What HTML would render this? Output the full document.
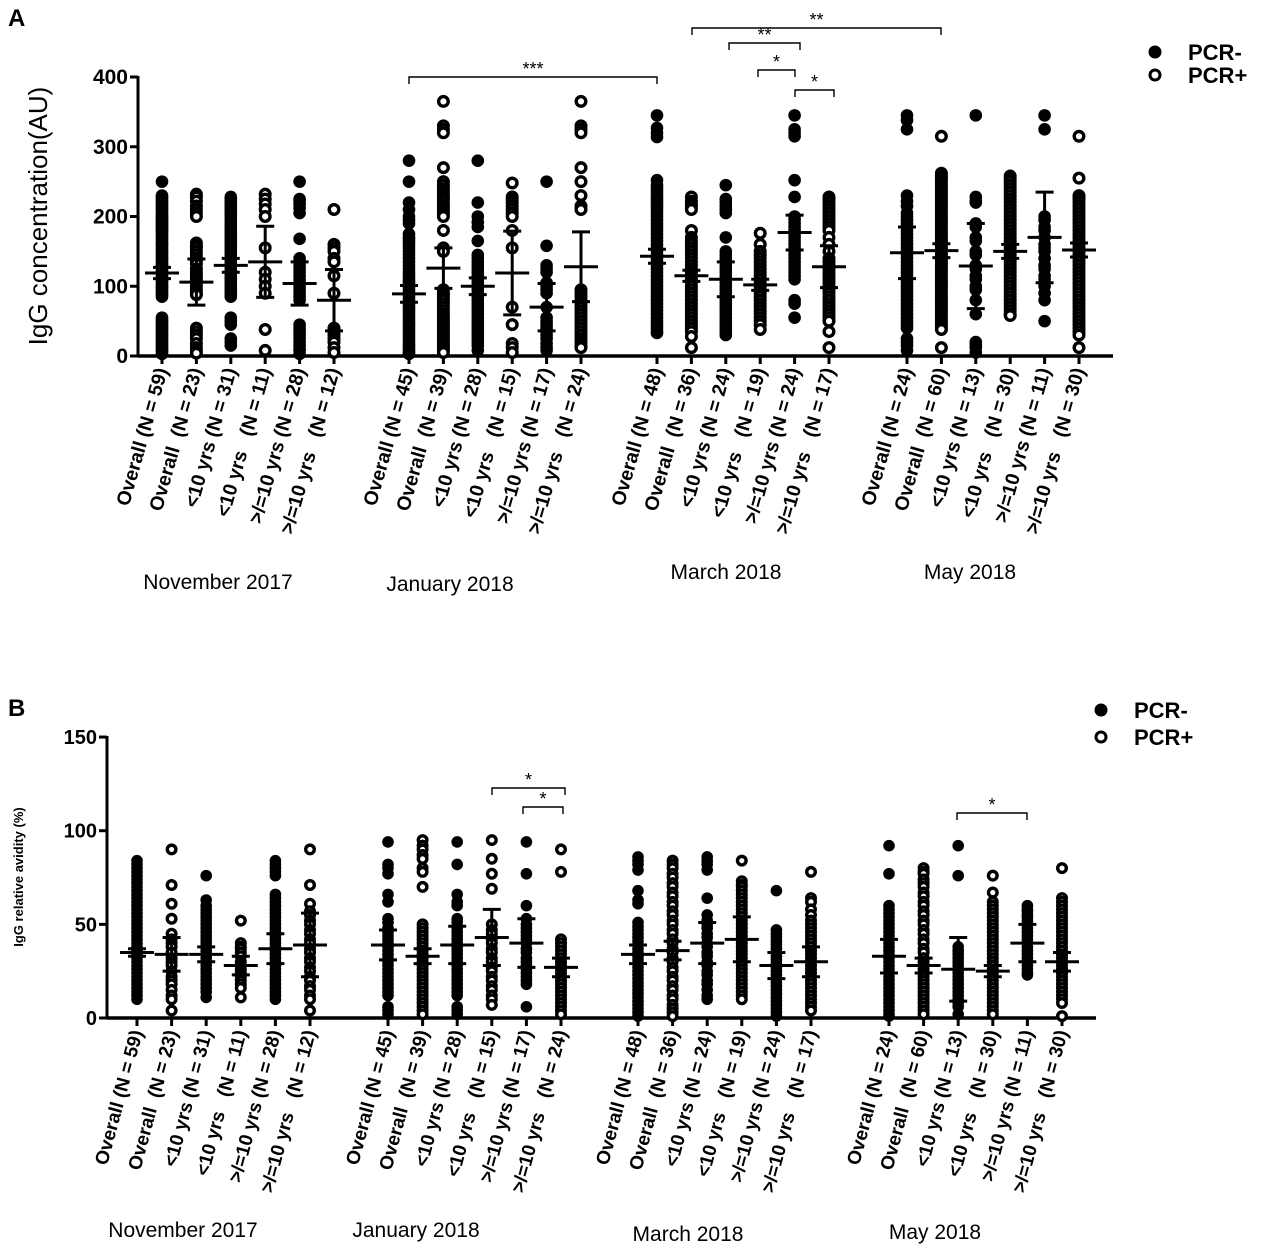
<!DOCTYPE html>
<html><head><meta charset="utf-8"><style>
html,body{margin:0;padding:0;background:#fff;}
svg{display:block;font-family:"Liberation Sans",Arial,sans-serif;}
</style></head><body>
<svg id="chart" width="1261" height="1251" viewBox="0 0 1261 1251" xmlns="http://www.w3.org/2000/svg">
<text x="8" y="26" font-size="24" font-weight="bold">A</text>
<text x="8" y="716" font-size="24" font-weight="bold">B</text>
<g id="pa"></g>
<g id="pb"></g>
</svg>
<script>
// ---------- shared categories ----------
const months = ["November 2017","January 2018","March 2018","May 2018"];
const colKinds = ["Overall","Overall ","<10 yrs","<10 yrs  ",">/=10 yrs",">/=10 yrs  "];
const colFilled = [true,false,true,false,true,false];
const groupN = [[59,23,31,11,28,12],[45,39,28,15,17,24],[48,36,24,19,24,17],[24,60,13,30,11,30]];

// ---------- Panel A data (IgG AU) ----------
const aValues = [
 [250,230,228,225,222,220,218,215,212,210,208,205,202,200,198,196,194,192,190,188,186,184,182,180,178,175,172,170,168,165,162,160,158,155,152,150,148,145,142,140,138,135,132,130,128,125,122,120,118,115,112,110,108,105,102,100,98,95,92,90,88,85,55,52,50,48,45,42,40,38,35,32,30,28,25,22,20,18,15,12,10,8,6,3],
 [232,228,222,215,210,205,200,162,158,155,150,145,140,136,132,125,120,116,112,108,105,100,95,90,88,40,35,30,25,18,12,8,4],
 [228,225,222,218,215,212,208,205,202,198,195,190,186,182,178,175,172,168,164,160,156,152,148,145,141,138,134,130,126,122,118,115,111,108,104,100,96,92,88,85,55,50,45,25,20,15],
 [232,225,218,210,200,155,120,110,100,90,38,8],
 [250,225,222,218,212,205,168,140,135,130,125,120,115,110,105,100,95,90,85,80,45,40,35,30,25,20,15,10,8,3],
 [210,160,155,150,140,135,115,90,40,35,30,25,20,12,5],
 [280,250,220,210,200,195,190,175,170,168,164,160,155,150,145,140,135,130,125,120,116,112,108,105,101,98,94,90,86,82,78,75,71,68,64,60,56,52,48,45,41,38,34,30,26,22,18,15,11,8,5,3],
 [365,330,325,320,270,250,245,240,236,232,228,225,220,215,212,208,204,200,180,155,150,95,90,88,84,80,75,70,65,60,56,52,48,45,41,38,34,30,26,22,18,15,11,8,5],
 [280,220,200,192,185,165,145,140,135,130,125,120,115,110,105,100,95,90,85,80,75,70,65,60,55,50,45,40,35,30,25,20,15,8],
 [248,228,224,220,215,210,205,200,180,155,70,45,18,12,5],
 [250,158,130,125,120,105,100,95,90,70,55,50,45,40,35,30,25,18,12,8],
 [365,330,325,320,270,250,230,215,210,95,90,85,80,75,70,65,60,55,50,45,40,35,30,25,20,15,12],
 [345,327,320,314,252,245,240,236,232,228,225,221,218,214,210,205,200,195,190,185,180,175,170,165,160,155,150,145,140,135,130,125,120,115,110,105,100,95,90,85,80,75,70,65,60,55,50,45,40,35,33],
 [228,222,218,215,210,180,170,165,160,155,150,145,140,135,130,125,120,115,110,105,100,95,90,85,80,75,70,65,60,55,50,45,40,35,28,12],
 [245,225,220,215,210,205,170,150,145,140,135,130,125,120,115,110,105,100,95,90,85,80,75,70,65,60,55,50,45,40,35,30],
 [176,160,150,145,140,135,130,125,120,115,110,105,100,95,90,85,80,75,70,65,60,55,50,45,38],
 [345,325,320,315,252,228,200,195,190,185,180,175,170,165,160,155,150,145,140,135,130,125,120,115,110,80,75,55],
 [228,224,220,215,210,205,200,195,190,185,180,170,160,150,140,135,130,125,120,115,110,105,100,95,90,85,80,75,70,65,60,55,50,35,12],
 [345,338,325,230,222,215,205,200,195,190,185,180,175,170,165,160,155,150,145,140,135,130,125,120,115,110,105,100,95,90,85,80,75,70,65,60,55,50,45,40,25,20,15,8],
 [315,262,258,255,252,248,244,240,236,232,228,225,221,218,214,210,206,202,198,195,191,188,184,180,176,172,168,165,161,158,154,150,146,142,138,135,131,128,124,120,116,112,108,105,101,98,94,90,86,82,78,75,71,68,64,60,56,52,48,45,41,38,12],
 [345,228,222,220,190,185,170,165,150,145,130,125,115,110,100,95,80,60,20,15,12,5],
 [258,254,250,245,240,235,230,225,220,215,210,205,200,195,190,185,180,175,170,165,160,155,150,145,140,135,130,125,120,115,110,105,100,95,90,85,80,75,70,65,60,58],
 [345,325,200,195,185,180,170,160,155,150,140,130,125,115,110,100,90,80,50],
 [315,255,230,228,225,220,215,210,205,200,195,190,185,180,175,170,165,160,155,150,145,140,135,130,125,120,115,110,105,100,95,90,85,80,75,70,65,60,55,50,45,40,35,30,12]
];
const aMeans = [119,106,130,135,104,80, 89,126,100,119,70,128, 143,115,110,102,177,128, 148,151,129,150,170,152];
const aSems  = [8,33,10,51,31,44, 12,29,12,60,34,50, 10,8,25,8,25,30, 37,10,61,10,65,10];
const aTicks = [0,100,200,300,400];

// ---------- Panel B data (avidity %) ----------
const bValues = [
 [84,82,80,78,76,74,72,70,68,66,64,62,60,58,56,54,52,50,48,46,44,42,40,38,36,34,32,30,28,26,24,22,20,18,16,14,12,10],
 [90,71,61,53,45,42,40,38,35,32,30,28,25,22,20,18,15,12,10,4],
 [76,63,60,58,56,54,52,50,48,46,44,42,40,38,36,34,32,30,28,26,24,22,20,18,16,14,11],
 [52,40,38,37,35,33,30,28,26,24,22,20,18,16,11],
 [84,82,80,78,76,66,64,62,60,58,56,54,52,50,48,46,44,42,40,38,36,34,32,30,28,26,24,22,20,18,16,14,12,10],
 [90,71,61,57,55,52,50,47,45,42,40,37,35,32,30,27,25,22,20,17,15,12,10,4],
 [94,82,80,77,66,62,53,51,48,46,44,42,40,38,36,34,32,30,28,26,24,22,20,18,16,14,12,6,4,2],
 [95,92,90,87,85,80,78,70,50,48,46,44,42,40,38,36,34,32,30,28,26,24,22,20,18,16,14,12,10,8,6,4,2],
 [94,82,66,62,60,53,51,48,46,44,42,40,38,36,34,32,30,28,26,24,22,20,18,16,14,12,6,4,2],
 [95,85,77,69,50,47,45,42,40,37,35,32,30,27,25,22,20,17,15,12,10,7],
 [94,77,60,53,50,48,46,44,42,40,37,35,32,30,28,26,24,22,20,18,6],
 [90,78,42,40,38,36,34,32,30,28,26,24,22,20,18,16,14,12,10,8,6,4,2],
 [86,84,82,79,68,63,61,51,49,47,45,43,41,39,37,35,33,31,29,27,25,23,21,19,17,15,13,11,9,7,5,3,1],
 [84,82,80,77,75,72,70,67,65,62,60,57,55,52,50,47,45,42,40,37,35,32,30,27,25,22,20,17,15,12,10,7,5,3,1],
 [86,84,82,79,64,55,52,50,48,45,43,40,38,35,33,30,28,25,23,20,18,15,12,10],
 [84,73,71,70,68,66,64,62,60,58,56,54,52,50,48,46,44,42,40,38,36,34,32,30,28,26,24,22,20,18,16,14,12,10],
 [68,47,45,43,41,39,37,35,33,31,29,27,25,23,21,19,17,15,13,11,9,7,5,3,1],
 [78,64,62,58,55,52,50,48,46,44,42,40,38,36,34,32,30,28,26,24,22,20,18,16,14,12,10,8,6,4],
 [92,77,60,58,56,54,52,50,48,46,44,42,40,38,36,34,32,30,28,26,24,22,20,18,16,14,12,10,8,6,4,2,1],
 [80,78,77,74,72,70,67,65,62,60,57,55,52,50,47,45,42,40,37,35,32,30,28,26,24,22,20,18,16,14,12,10,8,6,4,2],
 [92,76,38,36,34,32,30,28,26,24,22,20,18,16,14,12,10,8,6,2],
 [76,67,62,60,58,56,54,52,50,48,46,44,42,40,38,36,34,32,30,28,26,24,22,20,18,16,14,12,10,8,6,4,2],
 [60,58,57,55,54,52,50,48,46,44,42,40,38,36,34,32,30,28,26,24,23],
 [80,64,62,60,58,56,54,52,50,48,46,44,42,40,38,36,34,32,30,28,26,24,22,20,18,16,14,12,10,8,1]
];
const bMeans = [35,34,34,28,37,39, 39,33,39,43,40,27, 34,36,40,42,28,30, 33,28,26,25,40,30];
const bSems  = [2,9,4,5,8,17, 8,4,10,15,13,5, 5,5,11,12,7,8, 9,4,17,3,10,5];
const bTicks = [0,50,100,150];

const NS="http://www.w3.org/2000/svg";
function mk(parent,tag,attrs,text){const e=document.createElementNS(NS,tag);for(const k in attrs)e.setAttribute(k,attrs[k]);if(text!==undefined)e.textContent=text;parent.appendChild(e);return e;}

function drawPanel(g,cfg){
  const y=v=>cfg.y0-v*cfg.k;
  const x=i=>cfg.monthStart[Math.floor(i/6)]+(i%6)*cfg.step;
  const ya=mk(g,'line',{x1:cfg.ax,y1:y(cfg.ticks[cfg.ticks.length-1])-1,x2:cfg.ax,y2:cfg.y0+1.5,stroke:'#000','stroke-width':3});
  
  
  const xa=mk(g,'line',{x1:cfg.ax,y1:cfg.y0,x2:cfg.axEnd,y2:cfg.y0,stroke:'#000','stroke-width':3.5});
  
  
  cfg.ticks.forEach(t=>{
    mk(g,'line',{x1:cfg.ax-8,y1:y(t),x2:cfg.ax,y2:y(t),stroke:'#000','stroke-width':3});
    const tl=mk(g,'text',{x:cfg.ax-10,y:y(t)+7,'text-anchor':'end','font-size':cfg.tickFont,'font-weight':'bold'},String(t));
    
    
  });
  const yt=mk(g,'text',{x:0,y:0,'text-anchor':'middle','font-size':cfg.yTitleFont,'font-weight':cfg.yTitleWeight,transform:`translate(${cfg.yTitleX},${cfg.yTitleY}) rotate(-90)`},cfg.yTitle);
  
  
  cfg.values.forEach((vals,i)=>{
    const cx=x(i), filled=colFilled[i%6];
    mk(g,'line',{x1:cx,y1:cfg.y0,x2:cx,y2:cfg.y0+8,stroke:'#000','stroke-width':3});
    const cg=mk(g,'g',{});
    
    
    vals.forEach(v=>{
      const c=mk(cg,'circle',filled?{cx:cx,cy:y(v),r:cfg.r,fill:'#000'}:{cx:cx,cy:y(v),r:cfg.r-1.5,fill:'#fff',stroke:'#000','stroke-width':3.4});
      
      
    });
    const m=cfg.means[i], s=cfg.sems[i];
    const eb=mk(g,'g',{stroke:'#000','stroke-width':3});
    
    
    mk(eb,'line',{x1:cx,y1:y(m-s),x2:cx,y2:y(m+s)});
    mk(eb,'line',{x1:cx-9,y1:y(m-s),x2:cx+9,y2:y(m-s)});
    mk(eb,'line',{x1:cx-9,y1:y(m+s),x2:cx+9,y2:y(m+s)});
    mk(eb,'line',{x1:cx-cfg.meanW,y1:y(m),x2:cx+cfg.meanW,y2:y(m)});
    const lbl=colKinds[i%6]+" (N = "+groupN[Math.floor(i/6)][i%6]+")";
    const t=mk(g,'text',{x:0,y:0,'text-anchor':'end','font-size':cfg.lblFont,'font-weight':'bold','xml:space':'preserve',style:'white-space:pre',transform:`translate(${cx+6},${cfg.y0+14}) rotate(${cfg.rot})`},lbl);
    
    
  });
  months.forEach((mo,j)=>{
    const t=mk(g,'text',{x:cfg.monthPos[j][0],y:cfg.monthPos[j][1],'text-anchor':'middle','font-size':21},mo);
    
    
  });
  cfg.brackets.forEach(b=>{
    const p=mk(g,'path',{d:`M${b[0]} ${b[2]+7}V${b[2]}H${b[1]}V${b[2]+7}`,fill:'none',stroke:'#000','stroke-width':1.4});
    
    
    const st=mk(g,'text',{x:(b[0]+b[1])/2,y:b[2]-2,'text-anchor':'middle','font-size':18},b[3]);
    
    
  });
  const lg=mk(g,'g',{});
  
  
  const L=cfg.legend;
  mk(lg,'circle',{cx:L[0],cy:L[1],r:6.5,fill:'#000'});
  mk(lg,'circle',{cx:L[0],cy:L[1]+L[2],r:5,fill:'#fff',stroke:'#000','stroke-width':3});
  const l1=mk(lg,'text',{x:L[0]+33,y:L[1]+8,'font-size':22,'font-weight':'bold'},'PCR-');
  
  
  const l2=mk(lg,'text',{x:L[0]+33,y:L[1]+L[2]+8,'font-size':22,'font-weight':'bold'},'PCR+');
  
  
}

drawPanel(document.getElementById('pa'),{
  values:aValues,means:aMeans,sems:aSems,ticks:aTicks,
  y0:356,k:0.6975,ax:138,axEnd:1113,monthStart:[162,409,657,907],step:34.4,
  r:6.3,meanW:17,tickFont:21,lblFont:19.5,rot:-74,
  yTitle:'IgG concentration(AU)',yTitleFont:26,yTitleWeight:'normal',yTitleX:47,yTitleY:216,
  monthPos:[[218,589],[450,591],[726,579],[970,579]],
  brackets:[[409,657,77,'***'],[692,941,28,'**'],[729,800,43,'**'],[758,795,70,'*'],[795,834,90,'*']],
  legend:[1155,52,23]
});
drawPanel(document.getElementById('pb'),{
  values:bValues,means:bMeans,sems:bSems,ticks:bTicks,
  y0:1018,k:1.873,ax:107,axEnd:1096,monthStart:[137,388,638,889],step:34.6,
  r:5.8,meanW:17,tickFont:20,lblFont:19,rot:-75,
  yTitle:'IgG relative avidity (%)',yTitleFont:13,yTitleWeight:'bold',yTitleX:23,yTitleY:877,
  monthPos:[[183,1237],[416,1237],[688,1241],[935,1239]],
  brackets:[[492,565,788,'*'],[523,563,807,'*'],[957,1027,813,'*']],
  legend:[1101,710,27]
});
</script>
</body></html>
